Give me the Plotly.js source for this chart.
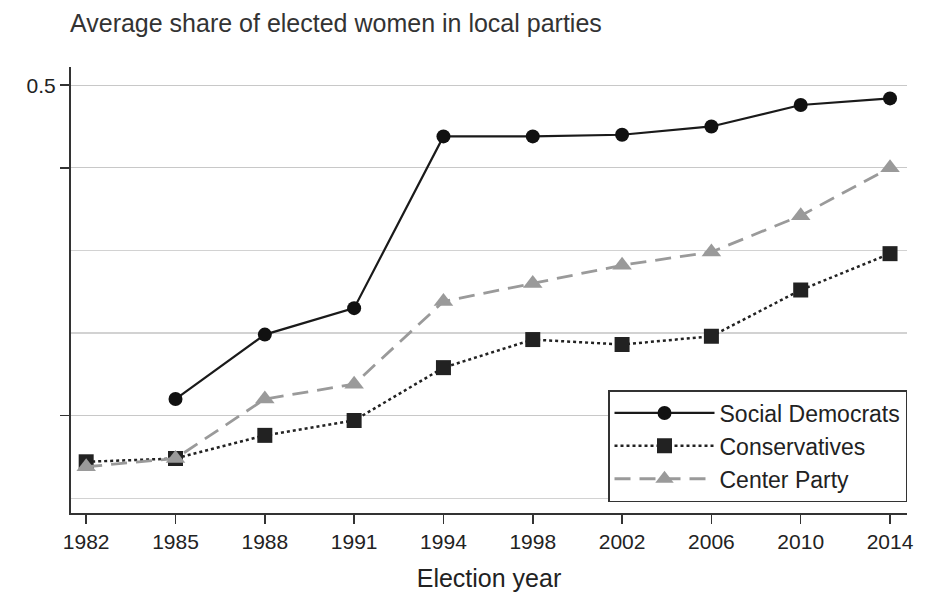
<!DOCTYPE html>
<html>
<head>
<meta charset="utf-8">
<script src="https://cdn.plot.ly/plotly-3.0.1.min.js"></script>
<style>
  html, body { margin: 0; padding: 0; background: #fff; }
  #chart { width: 932px; height: 596px; }
</style>
</head>
<body>
<div id="chart"></div>
<script>
// Election years (categorical, equally spaced)
const years = ["1982", "1985", "1988", "1991", "1994", "1998", "2002", "2006", "2010", "2014"];

// Average share of elected women
const socialDemocrats = [null, 0.310, 0.349, 0.365, 0.469, 0.469, 0.470, 0.475, 0.488, 0.492];
const conservatives   = [0.272, 0.274, 0.288, 0.297, 0.329, 0.346, 0.343, 0.348, 0.376, 0.398];
const centerParty     = [0.269, 0.274, 0.310, 0.319, 0.369, 0.380, 0.391, 0.399, 0.421, 0.450];

const seriesNames = ["Social Democrats", "Conservatives", "Center Party"];

const yTickVals = [0.5, 0.45, 0.3];
const yTickText = ["0.5", "", ""];
const yGridVals = [0.4, 0.35, 0.25];

const titleText = "Average share of elected women in local parties";
const xTitleText = "Election year";

const fontFam = "Liberation Sans, Arial, Helvetica, sans-serif";

const traces = [
  {
    x: years, y: socialDemocrats, name: seriesNames[0],
    type: "scatter", mode: "lines+markers",
    line: { color: "#1a1a1a", width: 2.2, dash: "solid" },
    marker: { symbol: "circle", size: 14, color: "#111" }
  },
  {
    x: years, y: conservatives, name: seriesNames[1],
    type: "scatter", mode: "lines+markers",
    line: { color: "#222", width: 2.5, dash: "dot" },
    marker: { symbol: "square", size: 15, color: "#222" }
  },
  {
    x: years, y: centerParty, name: seriesNames[2],
    type: "scatter", mode: "lines+markers",
    line: { color: "#9a9a9a", width: 2.8, dash: "16px,9px" },
    marker: { symbol: "triangle-up", size: 17, color: "#9a9a9a" }
  }
];

const layout = {
  width: 932, height: 596,
  margin: { l: 71, r: 25, t: 67, b: 83, pad: 0 },
  paper_bgcolor: "#fff", plot_bgcolor: "#fff",
  font: { family: fontFam, color: "#222", size: 22 },
  title: {
    text: titleText,
    font: { family: fontFam, size: 25, color: "#333" },
    x: 70 / 932, xref: "container", xanchor: "left",
    y: 1 - 23 / 596, yref: "container", yanchor: "middle"
  },
  xaxis: {
    type: "category",
    range: [-0.17, 9.19],
    showline: true, linecolor: "#333", linewidth: 2,
    ticks: "outside", ticklen: 9, tickwidth: 1.5, tickcolor: "#333",
    showgrid: false, zeroline: false,
    tickfont: { family: fontFam, size: 21, color: "#222" },
    title: { text: xTitleText, font: { family: fontFam, size: 25, color: "#222" }, standoff: 17 }
  },
  yaxis: {
    range: [0.241, 0.511],
    tickmode: "array", tickvals: yTickVals, ticktext: yTickText,
    showline: true, linecolor: "#333", linewidth: 2,
    ticks: "outside", ticklen: 9, tickwidth: 1.5, tickcolor: "#333",
    showgrid: true, gridcolor: "#c8c8c8", gridwidth: 1.3,
    zeroline: false,
    tickfont: { family: fontFam, size: 21, color: "#222" },
    minor: { tickmode: "array", tickvals: yGridVals, showgrid: true, gridcolor: "#d2d2d2", gridwidth: 1.1, ticks: "" }
  },
  showlegend: true,
  legend: {
    x: 1, xanchor: "right", y: (513 - 390) / 446, yanchor: "top",
    bgcolor: "#fff", bordercolor: "#333", borderwidth: 1.5,
    font: { family: fontFam, size: 23, color: "#222" },
    itemwidth: 100, tracegroupgap: 0
  }
};

Plotly.newPlot("chart", traces, layout, { displayModeBar: false, staticPlot: true });
</script>
</body>
</html>
